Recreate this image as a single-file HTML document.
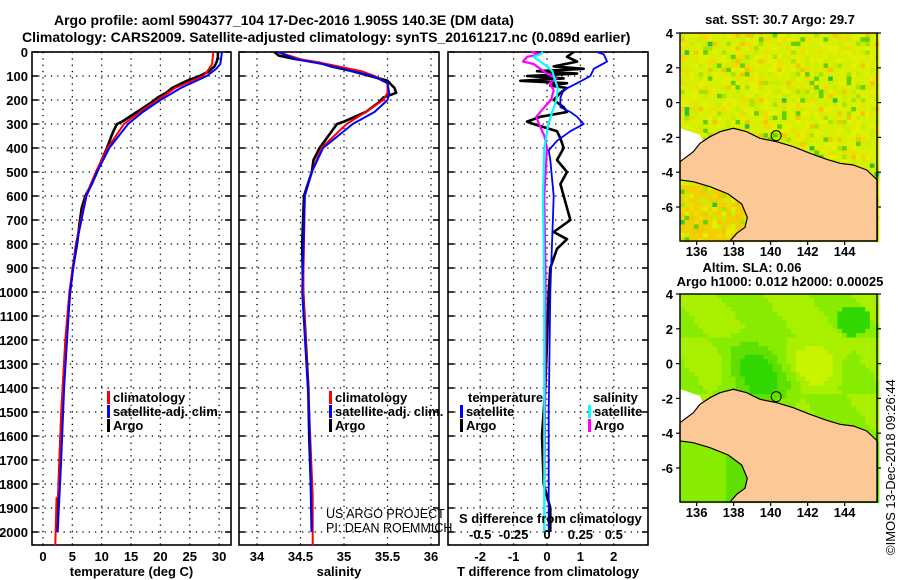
<!DOCTYPE html>
<html><head><meta charset="utf-8"><style>
html,body{margin:0;padding:0;background:#fff;width:900px;height:580px;overflow:hidden}
svg{display:block;font-family:"Liberation Sans",sans-serif}
.b{font-weight:bold;font-size:13px}
</style></head><body>
<svg id="chart" width="900" height="580" viewBox="0 0 900 580" xmlns="http://www.w3.org/2000/svg">
<text x="54" y="25" font-size="14" font-weight="bold">Argo profile: aoml 5904377_104 17-Dec-2016 1.905S 140.3E (DM data)</text>
<text x="22" y="42" font-size="14" font-weight="bold">Climatology: CARS2009. Satellite-adjusted climatology: synTS_20161217.nc (0.089d earlier)</text>
<g id="p1"></g>
<g id="p2"></g>
<g id="p3"></g>
<g id="m1"></g>
<g id="m2"></g>
<text x="780" y="24" text-anchor="middle" class="b">sat. SST: 30.7 Argo: 29.7</text>
<text x="752" y="272" text-anchor="middle" class="b">Altim. SLA: 0.06</text>
<text x="780" y="286" text-anchor="middle" class="b">Argo h1000: 0.012 h2000: 0.00025</text>
<text transform="translate(895,555) rotate(-90)" font-size="13">©IMOS 13-Dec-2018 09:26:44</text>
</svg>
<script>
// ---------- data ----------
const depthTicks=[0,100,200,300,400,500,600,700,800,900,1000,1100,1200,1300,1400,1500,1600,1700,1800,1900,2000];
const tempTicks=[0,5,10,15,20,25,30];
const salTicks=[34,34.5,35,35.5,36];
const tdiffTicks=[-2,-1,0,1,2];
const sdiffTicks=[-0.5,-0.25,0,0.25,0.5];
const argoT=[[0,29.8],[20,29.8],[40,29.6],[60,29.2],[80,28.3],[100,26.7],[120,24.5],[150,22],[170,21],[190,19.5],[210,18.5],[250,16],[290,13.5],[300,12.6],[330,12.0],[360,11.5],[400,10.9],[450,10],[500,9.2],[550,8.3],[600,7.2],[650,6.6],[700,6.3],[800,5.8],[900,5.1],[1000,4.6],[1200,3.9],[1400,3.4],[1600,3.0],[1800,2.7],[2000,2.4]];
const climT=[[0,29.0],[50,28.8],[80,28],[100,27.3],[150,22.5],[200,19.5],[250,16.5],[300,13.8],[400,11],[500,9],[600,7.3],[800,5.6],[1000,4.5],[1200,3.8],[1500,3.1],[1850,2.6],[1860,2.3],[2055,2.1]];
const satT=[[0,30.5],[50,30.2],[70,29.5],[100,27.9],[150,23.5],[200,20],[250,17],[300,14.5],[400,11.3],[500,9.2],[600,7.4],[800,5.7],[1000,4.6],[1400,3.6],[1700,3.1],[2000,2.5]];
const argoS=[[0,34.2],[15,34.25],[30,34.45],[45,34.72],[60,34.85],[80,35.1],[100,35.3],[120,35.5],[150,35.58],[170,35.6],[190,35.45],[210,35.4],[250,35.25],[290,35.0],[300,34.92],[350,34.82],[400,34.72],[450,34.65],[500,34.63],[600,34.54],[800,34.52],[1000,34.53],[1200,34.56],[1400,34.59],[1600,34.6],[1800,34.62],[2000,34.63]];
const climS=[[0,34.24],[30,34.5],[50,34.8],[80,35.2],[100,35.35],[130,35.5],[170,35.5],[200,35.45],[250,35.25],[300,35.03],[400,34.74],[500,34.63],[600,34.55],[1000,34.53],[1500,34.6],[1850,34.64],[2055,34.64]];
const satS=[[0,34.24],[30,34.45],[50,34.75],[80,35.1],[100,35.33],[130,35.5],[170,35.52],[200,35.5],[250,35.35],[300,35.1],[400,34.76],[500,34.63],[600,34.55],[1000,34.52],[1500,34.6],[2000,34.63]];
const argoTdiff=[[0,0.8],[20,0.6],[40,0.9],[60,0.2],[70,1.1],[80,-0.3],[90,0.9],[100,-0.6],[110,0.5],[120,-0.8],[130,0.6],[140,0.1],[150,0.6],[170,0.4],[200,0.2],[230,0.5],[250,0.6],[270,-0.2],[290,-0.6],[300,-0.4],[330,0.3],[360,0.4],[400,0.5],[450,0.3],[500,0.6],[550,0.4],[600,0.5],[650,0.6],[700,0.7],[750,0.2],[780,0.6],[820,0.3],[900,0.1],[1000,0.05],[1200,0.0],[1400,-0.05],[1600,-0.15],[1800,-0.1],[1900,0.1],[2000,0.1]];
const satTdiff=[[0,1.5],[10,1.7],[40,1.8],[70,1.4],[100,1.3],[130,0.9],[158,0.5],[190,0.4],[230,0.4],[250,0.7],[270,0.9],[300,1.1],[330,0.7],[370,0.3],[410,0.05],[450,0.1],[600,0.2],[800,0.15],[1000,0.1],[1500,0.05],[2000,0.05]];
const argoSdiff=[[0,-0.12],[10,-0.05],[20,-0.15],[40,-0.18],[50,-0.1],[70,-0.05],[90,0.0],[110,0.07],[130,0.02],[160,0.05],[200,0.03],[230,-0.02],[270,-0.08],[300,-0.06],[350,-0.02],[400,0.0],[600,-0.02],[1000,-0.01],[2000,-0.02]];
const satSdiff=[[0,-0.03],[10,-0.05],[20,-0.1],[40,-0.05],[60,0.0],[80,0.04],[100,0.05],[150,0.08],[200,0.07],[250,0.04],[300,0.01],[400,-0.02],[600,-0.03],[1000,-0.02],[2000,-0.02]];
const lonTicks=[136,138,140,142,144];
const latTicks=[4,2,0,-2,-4,-6];
const floatPos=[140.3,-1.9];

// ---------- helpers ----------
const NS='http://www.w3.org/2000/svg';
function mk(parent,tag,attrs){const e=document.createElementNS(NS,tag);for(const k in attrs)e.setAttribute(k,attrs[k]);parent.appendChild(e);return e;}
const yD=d=>52+0.24*d;
const TOP=52,BOT=545;

function panel(g,x0,x1,xs,ticks,gridTicks,labels,title){
  for(const t of gridTicks){const x=xs(t);
    const l=mk(g,'line',{x1:x,x2:x,y1:TOP,y2:BOT,stroke:'#000','stroke-width':1.3,'stroke-dasharray':'1.3,5'});
    }
  for(const d of depthTicks){const y=yD(d);
    const l=mk(g,'line',{x1:x0,x2:x1,y1:y,y2:y,stroke:'#000','stroke-width':1.3,'stroke-dasharray':'1.3,5'});
    
    mk(g,'line',{x1:x0,x2:x0+6,y1:y,y2:y,stroke:'#000','stroke-width':1.5});
    mk(g,'line',{x1:x1-6,x2:x1,y1:y,y2:y,stroke:'#000','stroke-width':1.5});}
  const r=mk(g,'rect',{x:x0,y:TOP,width:x1-x0,height:BOT-TOP,fill:'none',stroke:'#000','stroke-width':1.6});
  
  if(labels){for(let i=0;i<ticks.length;i++){const t=mk(g,'text',{x:xs(ticks[i]),y:561,'text-anchor':'middle',class:'b'});t.textContent=labels[i];
    }}
  const tt=mk(g,'text',{x:(x0+x1)/2,y:576,'text-anchor':'middle',class:'b'});tt.textContent=title;
  
}
function line(g,data,xs,color,w,name){
  const p=data.map((d,i)=>(i?'L':'M')+xs(d[1]).toFixed(1)+','+yD(d[0]).toFixed(1)).join('');
  const e=mk(g,'path',{d:p,fill:'none',stroke:color,'stroke-width':w,'stroke-linejoin':'round'});
  
}
function legend(g,x,y,items){
  items.forEach((it,i)=>{const yy=y+i*14;
    mk(g,'rect',{x:x,y:yy-10,width:3,height:13,fill:it[1]});
    const t=mk(g,'text',{x:x+6,y:yy+1,class:'b'});t.textContent=it[0];
    });
}

// ---------- panel 1 ----------
const p1=document.getElementById('p1');
const xT=t=>43+5.87*t;
panel(p1,32,231,xT,tempTicks,tempTicks,tempTicks.map(String),'temperature (deg C)');
for(const d of depthTicks){const t=mk(p1,'text',{x:28,y:yD(d)+5,'text-anchor':'end',class:'b'});t.textContent=d;
  }
line(p1,argoT,xT,'#000',2.6,'argo-temperature-line');
line(p1,climT,xT,'#f00',2,'climatology-temperature-line');
line(p1,satT,xT,'#00f',2,'satellite-temperature-line');
legend(p1,107,401,[['climatology','#f00'],['satellite-adj. clim.','#00f'],['Argo','#000']]);

// ---------- panel 2 ----------
const p2=document.getElementById('p2');
const xS=s=>257+87*(s-34);
panel(p2,239,439,xS,salTicks,salTicks,salTicks.map(String),'salinity');
line(p2,argoS,xS,'#000',2.6,'argo-salinity-line');
line(p2,climS,xS,'#f00',2,'climatology-salinity-line');
line(p2,satS,xS,'#00f',2,'satellite-salinity-line');
legend(p2,329,401,[['climatology','#f00'],['satellite-adj. clim.','#00f'],['Argo','#000']]);
const c1=mk(p2,'text',{x:326,y:518,'font-size':'12.5'});c1.textContent='US ARGO PROJECT';

const c2=mk(p2,'text',{x:326,y:532,'font-size':'12.5'});c2.textContent='PI: DEAN ROEMMICH';


// ---------- panel 3 ----------
const p3=document.getElementById('p3');
const xTd=t=>547+33.4*t;
const xSd=s=>547+133.6*s;
panel(p3,448,648,xTd,tdiffTicks,tdiffTicks,tdiffTicks.map(String),'T difference from climatology');
line(p3,argoTdiff,xTd,'#000',2.6,'argo-tdiff-line');
line(p3,satTdiff,xTd,'#00f',1.8,'satellite-tdiff-line');
line(p3,argoSdiff,xSd,'#f0f',2.2,'argo-sdiff-line');
line(p3,satSdiff,xSd,'#0ff',2.2,'satellite-sdiff-line');
const lt=mk(p3,'text',{x:468,y:402,class:'b'});lt.textContent='temperature';

const ls=mk(p3,'text',{x:593,y:402,class:'b'});ls.textContent='salinity';

legend(p3,460,415,[['satellite','#00f'],['Argo','#000']]);
legend(p3,588,415,[['satellite','#0ff'],['Argo','#f0f']]);
const sd=mk(p3,'text',{x:459,y:523,class:'b'});sd.textContent='S difference from climatology';

for(const s of sdiffTicks){const t=mk(p3,'text',{x:xSd(s),y:539,'text-anchor':'middle',class:'b'});
  t.textContent=String(s);
  }

// ---------- maps ----------
function hash(i,j,s){let h=(i*374761393+j*668265263+s*982451653)|0;h=(h^(h>>>13))*1274126177|0;return ((h^(h>>>16))>>>0)/4294967296;}
const land=[[60,485],[80,470],[100,455],[120,430],[150,410],[180,395],[220,385],[260,395],[300,415],[350,425],[400,440],[450,460],[500,478],[540,490],[580,495],[620,510],[652,540],[652,723],[210,723],[230,700],[255,682],[262,652],[245,612],[205,582],[150,560],[100,545],[60,540]];
function drawMap(g,x0,y0,x1,y1,yoff,kind){
  const lx=lon=>680+(lon-135.1)*18.5;
  const ly=lat=>y0+(4-lat)*17.4;
  const cw=4.63,ch=4.35;
  for(let i=0;x0+i*cw<x1;i++)for(let j=0;y0+j*ch<y1;j++){
    let c;
    const lon=135.1+i*0.25,lat=4-j*0.25;
    if(kind==='sst'){const r=hash(i,j,1);
      c=r<0.5?'#d8f000':r<0.68?'#e4f000':r<0.78?'#c8ee00':r<0.86?'#f0dc00':r<0.9?'#f0c800':r<0.95?'#a8e400':r<0.985?'#60d000':'#30c040';
      if(lat<-4.5&&lon<138.5&&r<0.6)c='#f0d000';}
    else{
      const dd=Math.hypot(lon-139.2,(lat+0.8)*0.8);
      const e=Math.hypot(lon-142.6,lat-0.3);
      const f=Math.hypot(lon-144.3,lat-2.6);
      let v=0.5+0.1*Math.sin(lon*1.3+lat)*Math.cos(lat*0.9);
      if(dd<2.5)v-=0.35*(1-dd/2.5);if(e<1.8)v+=0.3*(1-e/1.8);if(f<0.9)v-=0.3;
      if(lat<-4.4)v=lon>137.5?0.3:0.42;
      c=v<0.25?'#30d800':v<0.38?'#60e000':v<0.5?'#88ec00':v<0.62?'#a8f000':'#c8f400';}
    mk(g,'rect',{x:(x0+i*cw).toFixed(2),y:(y0+j*ch).toFixed(2),width:cw+0.3,height:ch+0.3,fill:c});
  }
  mk(g,'polygon',{points:'680,'+(yoff+128)+' 700,'+(yoff+135)+' 706,'+(yoff+148)+' 700,'+(yoff+160)+' 680,'+(yoff+163),fill:'#fff'});
  const pts=land.map(p=>(660+p[0]/3).toFixed(1)+','+(yoff+p[1]/3).toFixed(1)).join(' ');
  const L=mk(g,'polygon',{points:pts,fill:'#fcc896',stroke:'#000','stroke-width':1.2});
  
  mk(g,'rect',{x:x0,y:y0,width:x1-x0,height:y1-y0,fill:'none',stroke:'#000','stroke-width':1.4});
  const fc=mk(g,'circle',{cx:lx(floatPos[0]),cy:ly(floatPos[1]),r:5,fill:'none',stroke:'#000','stroke-width':1});
  
  for(const la of latTicks){const y=ly(la);
    mk(g,'line',{x1:x0,x2:x0-4,y1:y,y2:y,stroke:'#000','stroke-width':1.2});
    mk(g,'line',{x1:x1,x2:x1+4,y1:y,y2:y,stroke:'#000','stroke-width':1.2});
    const t=mk(g,'text',{x:673,y:y+5,'text-anchor':'end',class:'b'});t.textContent=la;
    }
  for(const lo of lonTicks){const x=lx(lo);
    mk(g,'line',{x1:x,x2:x,y1:y1,y2:y1+4,stroke:'#000','stroke-width':1.2});
    const t=mk(g,'text',{x:x,y:y1+15,'text-anchor':'middle',class:'b'});t.textContent=lo;
    }
}
drawMap(document.getElementById('m1'),680,33,877,241,0,'sst');
drawMap(document.getElementById('m2'),680,294,877,502,261,'sla');
</script>
</body></html>
